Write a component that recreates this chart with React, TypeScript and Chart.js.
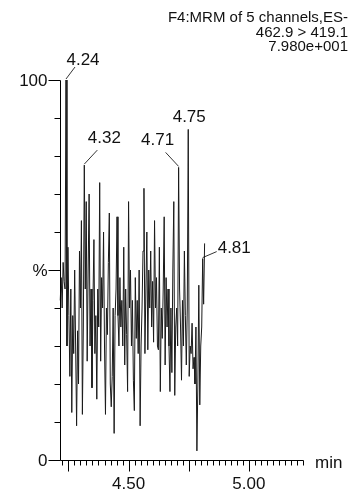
import React, { useEffect, useRef } from "react";
import { Chart, registerables } from "chart.js";

Chart.register(...registerables);

// ---- data ----
const times: number[] = [
  4.216, 4.220, 4.224, 4.228, 4.232, 4.236, 4.240, 4.244, 4.248, 4.252,
  4.256, 4.260, 4.264, 4.268, 4.272, 4.276, 4.280, 4.284, 4.288, 4.292,
  4.296, 4.300, 4.304, 4.308, 4.312, 4.316, 4.320, 4.324, 4.328, 4.332,
  4.336, 4.340, 4.344, 4.348, 4.352, 4.356, 4.360, 4.364, 4.368, 4.372,
  4.376, 4.380, 4.384, 4.388, 4.392, 4.396, 4.400, 4.404, 4.408, 4.412,
  4.416, 4.420, 4.424, 4.428, 4.432, 4.436, 4.440, 4.444, 4.448, 4.452,
  4.456, 4.460, 4.464, 4.468, 4.472, 4.476, 4.480, 4.484, 4.488, 4.492,
  4.496, 4.500, 4.504, 4.508, 4.512, 4.516, 4.520, 4.524, 4.528, 4.532,
  4.536, 4.540, 4.544, 4.548, 4.552, 4.556, 4.560, 4.564, 4.568, 4.572,
  4.576, 4.580, 4.584, 4.588, 4.592, 4.596, 4.600, 4.604, 4.608, 4.612,
  4.616, 4.620, 4.624, 4.628, 4.632, 4.636, 4.640, 4.644, 4.648, 4.652,
  4.656, 4.660, 4.664, 4.668, 4.672, 4.676, 4.680, 4.684, 4.688, 4.692,
  4.696, 4.700, 4.704, 4.708, 4.712, 4.716, 4.720, 4.724, 4.728, 4.732,
  4.736, 4.740, 4.744, 4.748, 4.752, 4.756, 4.760, 4.764, 4.768, 4.772,
  4.776, 4.780, 4.784, 4.788, 4.792, 4.796, 4.800, 4.804, 4.808, 4.812,
  4.816,
];

const intensity: number[] = [
  42, 48, 40, 52, 47, 45, 100, 30, 56, 38,
  22, 45, 12.5, 38, 28, 50, 30, 9, 34, 20,
  55, 40, 63, 12, 35, 77.6, 45, 68, 26, 50,
  70, 30, 45, 19, 42, 58, 28, 38, 16, 45,
  35, 73, 26, 48, 40, 60, 30, 12, 40, 33,
  52, 65, 20, 14, 22, 40, 7, 38, 45, 64,
  38, 30, 48, 35, 42, 30, 56, 25, 45, 33,
  18, 68, 40, 50, 30, 42, 21, 13, 48, 32,
  42, 28, 50, 9, 30, 40, 55, 71.5, 28, 45,
  60, 29, 50, 40, 55, 35, 47, 31, 63, 40,
  48, 30, 29, 56, 18, 40, 32, 45, 64, 25,
  48, 35, 45, 30, 18, 40, 23, 50, 68, 17,
  35, 40, 30, 77, 45, 35, 21, 42, 30, 55,
  38, 25, 40, 87, 22, 30, 28, 36, 24, 27,
  20, 35, 2.4, 20, 46, 14.5, 30, 35, 53, 41,
  57,
];

const peakIndices: number[] = [6, 25, 123, 133, 148];
const peakLabels: string[] = ["4.24", "4.32", "4.71", "4.75", "4.81"];

const titleLines: string[] = ["F4:MRM of 5 channels,ES-", "462.9 > 419.1", "7.980e+001"];

const xMin = 4.215;
const xMax = 5.225;
const xMinorStart = 4.225;
const xMinorStep = 0.025;
const xMajorTicks: number[] = [4.25, 4.5, 4.75, 5.0];
const xLabelValues: number[] = [4.5, 5.0];
const xLabelTexts: string[] = ["4.50", "5.00"];
const xUnit = "min";

const yTickValues: number[] = [0, 10, 20, 30, 40, 50, 60, 70, 80, 90, 100];
const yLabelValues: number[] = [0, 50, 100];
const yLabelTexts: string[] = ["0", "%", "100"];

// ---- styles for annotations (offsets from the peak point) ----
const peakStyle: { lx: number; ly: number; tx: number; ty: number; align: CanvasTextAlign }[] = [
  { lx: 9, ly: -13, tx: 17, ty: -20, align: "center" },
  { lx: 13, ly: -15, tx: 20, ty: -27, align: "center" },
  { lx: -13, ly: -15, tx: -21, ty: -27, align: "center" },
  { lx: 0, ly: 0, tx: 1, ty: -12, align: "center" },
  { lx: 14, ly: -7, tx: 15, ty: -10, align: "left" },
];

const FAMILY = '"Liberation Sans", Arial, Helvetica, sans-serif';
const LABEL_FONT = `17px ${FAMILY}`;
const TITLE_FONT = `15px ${FAMILY}`;

const decorPlugin = {
  id: "decor",
  afterDraw(chart: any) {
    const { ctx } = chart;
    const xs = chart.scales.x;
    const ys = chart.scales.y;
    ctx.save();
    ctx.strokeStyle = "#000";
    ctx.fillStyle = "#111";
    ctx.lineWidth = 1;
    ctx.font = LABEL_FONT;

    const axX = Math.round(xs.left) + 0.5;
    const axY = Math.round(ys.getPixelForValue(0)) + 0.5;

    // y axis
    ctx.beginPath();
    ctx.moveTo(axX, Math.round(ys.getPixelForValue(100)) + 0.5);
    ctx.lineTo(axX, axY);
    ctx.stroke();
    for (const v of yTickValues) {
      const y = Math.round(ys.getPixelForValue(v)) + 0.5;
      const len = yLabelValues.includes(v) ? 12 : 6;
      ctx.beginPath();
      ctx.moveTo(axX, y);
      ctx.lineTo(axX - len, y);
      ctx.stroke();
    }
    ctx.textAlign = "right";
    ctx.textBaseline = "middle";
    yLabelValues.forEach((v, i) => {
      ctx.fillText(yLabelTexts[i], axX - 13, ys.getPixelForValue(v) + 1);
    });

    // x axis
    ctx.beginPath();
    ctx.moveTo(axX, axY);
    ctx.lineTo(Math.round(xs.right) + 0.5, axY);
    ctx.stroke();
    const nMinor = Math.round((xMax - xMinorStart) / xMinorStep);
    for (let k = 0; k <= nMinor; k++) {
      const v = xMinorStart + k * xMinorStep;
      const isMajor = xMajorTicks.some((m) => Math.abs(m - v) < 1e-6);
      const x = Math.round(xs.getPixelForValue(v)) + 0.5;
      ctx.beginPath();
      ctx.moveTo(x, axY);
      ctx.lineTo(x, axY + (isMajor ? 11 : 5));
      ctx.stroke();
    }
    ctx.textAlign = "center";
    ctx.textBaseline = "middle";
    xLabelValues.forEach((v, i) => {
      ctx.fillText(xLabelTexts[i], xs.getPixelForValue(v), axY + 24);
    });
    ctx.textAlign = "left";
    ctx.fillText(xUnit, xs.right + 12, axY + 3);

    // title
    ctx.font = TITLE_FONT;
    ctx.textAlign = "right";
    titleLines.forEach((t, i) => {
      ctx.fillText(t, 348, 18 + i * 14.5);
    });

    // peak annotations
    ctx.font = LABEL_FONT;
    peakIndices.forEach((idx, i) => {
      const st = peakStyle[i];
      const px = xs.getPixelForValue(times[idx]);
      const py = ys.getPixelForValue(intensity[idx]);
      if (st.lx !== 0 || st.ly !== 0) {
        ctx.beginPath();
        ctx.lineWidth = 0.8;
        ctx.moveTo(px, py - 1);
        ctx.lineTo(px + st.lx, py + st.ly);
        ctx.stroke();
      }
      ctx.textAlign = st.align;
      ctx.textBaseline = "middle";
      ctx.fillText(peakLabels[i], px + st.tx, py + st.ty);
    });
    ctx.restore();
  },
};

export default function App() {
  const ref = useRef<HTMLCanvasElement | null>(null);
  useEffect(() => {
    if (!ref.current) return;
    const chart = new Chart(ref.current, {
      type: "line",
      data: {
        datasets: [
          {
            data: times.map((t, i) => ({ x: t, y: intensity[i] })),
            borderColor: "#1a1a1a",
            borderWidth: 1,
            pointRadius: 0,
            tension: 0,
            fill: false,
            clip: false as any,
          },
        ],
      },
      options: {
        responsive: false,
        animation: false,
        events: [],
        layout: { padding: { left: 60, right: 52, top: 80, bottom: 33 } },
        plugins: { legend: { display: false }, tooltip: { enabled: false } },
        scales: {
          x: { type: "linear", min: xMin, max: xMax, display: false },
          y: { type: "linear", min: 0, max: 100, display: false },
        },
      },
      plugins: [decorPlugin],
    });
    return () => chart.destroy();
  }, []);
  return (
    <div style={{ position: "fixed", left: 0, top: 0, width: 355, height: 493, background: "#fff" }}>
      <canvas ref={ref} width={355} height={493} style={{ display: "block" }} />
    </div>
  );
}
